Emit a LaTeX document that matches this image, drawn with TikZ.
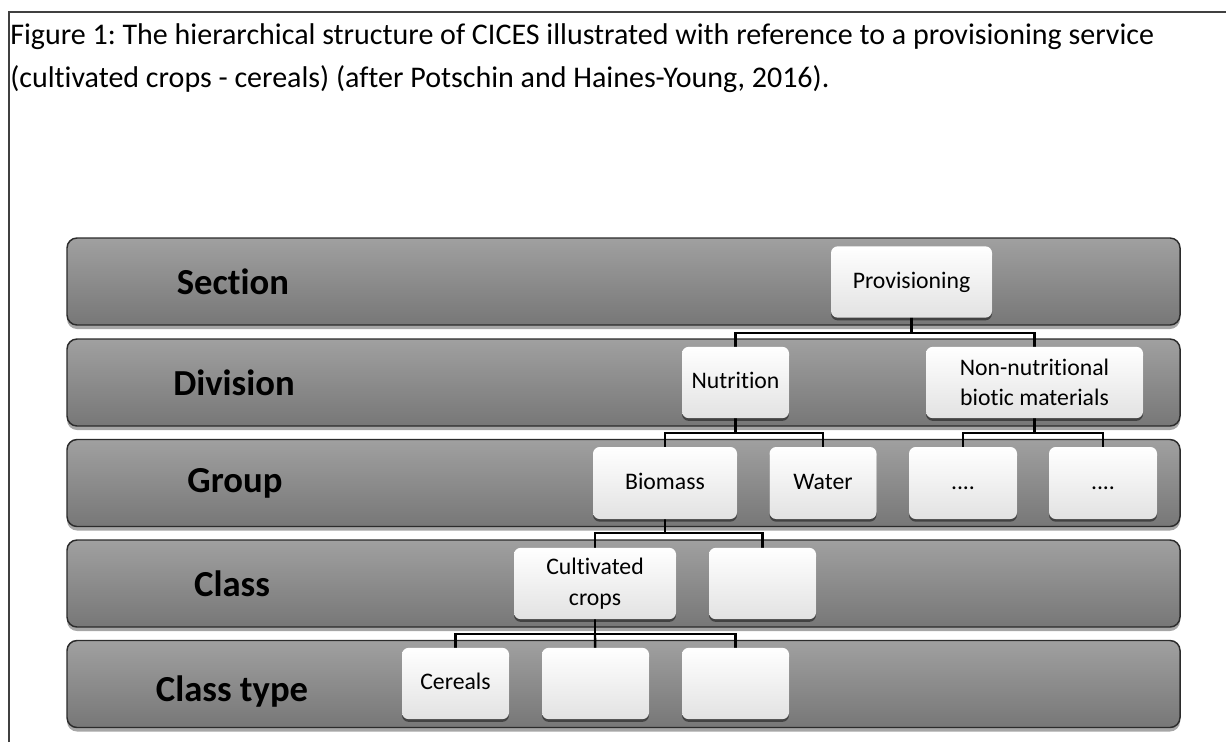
\documentclass[tikz,border=0pt]{standalone}
\usepackage{fontspec}
\setmainfont{Carlito}[Ligatures=NoCommon]
\usetikzlibrary{shadows}
\definecolor{bandtop}{HTML}{A0A0A0}
\definecolor{bandbot}{HTML}{777777}
\definecolor{bandline}{HTML}{2B2B2B}
\definecolor{boxbot}{HTML}{E2E2E2}
\definecolor{frameline}{HTML}{404040}
\tikzset{
  band/.style={draw=bandline, line width=1.1pt, rounded corners=7.5pt,
    top color=bandtop, bottom color=bandbot, minimum width=834.75pt,
    minimum height=65.25pt, inner sep=0pt,
    drop shadow={shadow xshift=0pt, shadow yshift=-3pt, opacity=0.35, fill=black}},
  bandlabel/.style={font=\fontsize{27.5}{32}\selectfont\bfseries, inner sep=0pt},
  cbox/.style={rounded corners=5pt, top color=white, bottom color=boxbot,
    minimum height=53.5pt, inner sep=0pt, align=center,
    font=\fontsize{17.8}{23}\selectfont,
    drop shadow={shadow xshift=0pt, shadow yshift=-2pt, opacity=0.45, fill=black}},
  cboxone/.style={cbox, text height=1.05em, text depth=0.13em},
  conn/.style={line width=1.8pt, black},
  captext/.style={font=\fontsize{22.5}{28}\selectfont, anchor=base west, inner sep=0pt}
}
\frenchspacing
\begin{document}
\begin{tikzpicture}[x=0.75pt,y=-0.75pt]
\useasboundingbox (0,0) rectangle (1226,742);
% frame
\draw[frameline, line width=1.1pt] (9,742) -- (9,12) -- (1226,12);
% caption
\node[captext] (cap1) at (10,45) {Figure 1: The hierarchical structure of CICES illustrated with reference to a provisioning service};
\node[captext] (cap2) at (10,87) {(cultivated crops - cereals) (after Potschin and Haines-Young, 2016).};
% bands
\node[band] (b1) at (623.5,281.5) {};
\node[band] (b2) at (623.5,382.5) {};
\node[band] (b3) at (623.5,483) {};
\node[band] (b4) at (623.5,583.5) {};
\node[band] (b5) at (623.5,684) {};
\node[bandlabel] (l1) at (233,281.5) {Section};
\node[bandlabel] (l2) at (234,382.5) {Division};
\node[bandlabel] (l3) at (235,483) {Group};
\node[bandlabel] (l4) at (232,583.5) {Class};
\node[bandlabel] (l5) at (232,692) {Class type};
% bar levels
\coordinate (y1) at (0,333);
\coordinate (y2) at (0,433);
\coordinate (y3) at (0,533);
\coordinate (y4) at (0,634);
% box centres
\coordinate (prov) at (911.5,282);
\coordinate (nutr) at (735.5,382.5);
\coordinate (nonn) at (1034.5,382.5);
\coordinate (bio) at (665,483);
\coordinate (wat) at (823,483);
\coordinate (d1) at (963,483);
\coordinate (d2) at (1103,483);
\coordinate (cult) at (595,583.5);
\coordinate (ce) at (762.5,583.5);
\coordinate (cer) at (455.5,683.5);
\coordinate (t2) at (595.5,683.5);
\coordinate (t3) at (735.5,683.5);
% connectors (drawn first, boxes on top)
\draw[conn] (prov) -- (prov |- y1) -| (nutr);
\draw[conn] (prov |- y1) -| (nonn);
\draw[conn] (nutr) -- (nutr |- y2) -| (bio);
\draw[conn] (nutr |- y2) -| (wat);
\draw[conn] (nonn) -- (nonn |- y2) -| (d1);
\draw[conn] (nonn |- y2) -| (d2);
\draw[conn] (bio) -- (bio |- y3) -| (cult);
\draw[conn] (bio |- y3) -| (ce);
\draw[conn] (cult) -- (cult |- y4) -| (cer);
\draw[conn] (cult |- y4) -- (t2);
\draw[conn] (cult |- y4) -| (t3);
% boxes
\node[cboxone, minimum width=120.75pt] (nProv) at (prov) {Provisioning};
\node[cboxone, minimum width=80.25pt] (nNutr) at (nutr) {Nutrition};
\node[cbox, minimum width=162.75pt] (nNonn) at (nonn) {Non-nutritional\\biotic materials};
\node[cboxone, minimum width=108pt, minimum height=54pt] (nBio) at (bio) {Biomass};
\node[cboxone, minimum width=80.25pt, minimum height=54pt] (nWat) at (wat) {Water};
\node[cboxone, minimum width=81pt, minimum height=54pt] (nD1) at (d1) {....};
\node[cboxone, minimum width=81pt, minimum height=54pt] (nD2) at (d2) {....};
\node[cbox, minimum width=121.5pt] (nCult) at (cult) {Cultivated\\crops};
\node[cbox, minimum width=80.25pt] (nCe) at (ce) {};
\node[cboxone, minimum width=80.25pt] (nCer) at (cer) {Cereals};
\node[cbox, minimum width=80.25pt] (nT2) at (t2) {};
\node[cbox, minimum width=80.25pt] (nT3) at (t3) {};
\end{tikzpicture}
\end{document}
